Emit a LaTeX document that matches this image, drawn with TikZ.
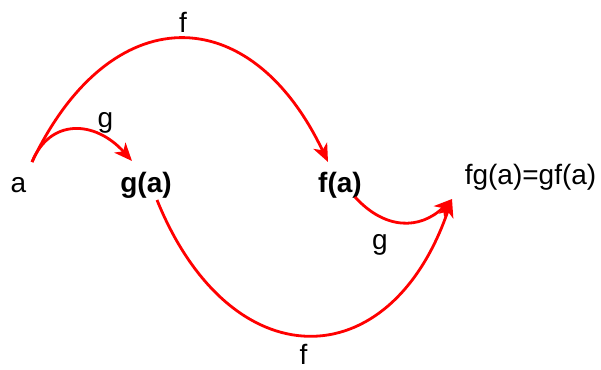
\documentclass[tikz,border=0pt]{standalone}
\usepackage{fontspec}
\setmainfont{Liberation Sans}
\usetikzlibrary{arrows.meta}
\begin{document}
\begin{tikzpicture}[x=1pt,y=-1pt,
  lbl/.style={inner sep=0pt,anchor=base,font=\fontsize{28}{34}\selectfont},
  bld/.style={lbl,font=\fontsize{28}{34}\selectfont\bfseries},
  arr/.style={draw=red,line width=2.8pt,-{Stealth[length=18pt,width=15pt,inset=5pt]}}]
\useasboundingbox (0,0) rectangle (601,369);
% texts
\node[lbl] (a) at (18.5,192) {a};
\node[bld] (ga) at (146,192) {g(a)};
\node[bld] (fa) at (340,192) {f(a)};
\node[lbl] (res) at (530.5,184) {fg(a)=gf(a)};
\node[lbl] (lf1) at (183,33) {f};
\node[lbl] (lg1) at (105.5,127) {g};
\node[lbl] (lg2) at (380,249) {g};
\node[lbl] (lf2) at (303.5,364) {f};
% anchor points
\coordinate (aout) at (32,162);
\coordinate (gain) at (132,161);
\coordinate (fain) at (328,162);
\coordinate (gaout) at (157,200);
\coordinate (faout) at (355,197);
\coordinate (resin) at (452,199);
% connectors
\draw[arr] (aout) .. controls (50,118) and (95,120) .. (gain);
\draw[arr] (aout) .. controls (110,-2) and (250,-2) .. (fain);
\draw[arr] (gaout) .. controls (230,380) and (390,380) .. (resin);
\draw[arr] (faout) .. controls (385,230) and (420,230) .. (resin);
\end{tikzpicture}
\end{document}
